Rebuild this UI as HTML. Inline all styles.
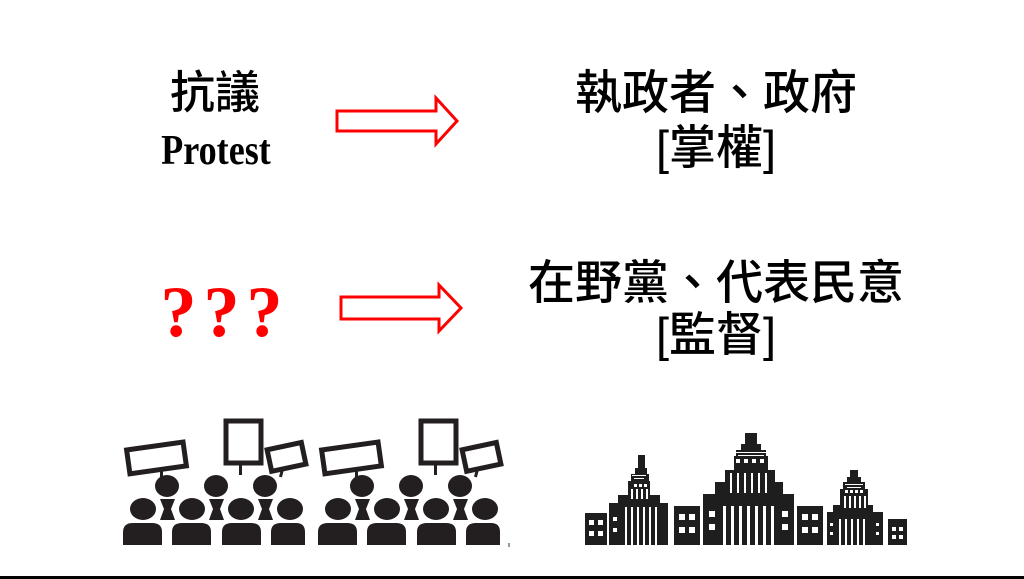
<!DOCTYPE html>
<html><head><meta charset="utf-8"><style>
html,body{margin:0;padding:0;background:#fff;}
body{width:1024px;height:579px;position:relative;overflow:hidden;}
.t{position:absolute;font-family:"Liberation Sans","Noto Sans CJK TC",sans-serif;color:#000;line-height:1;white-space:nowrap;text-align:center;}
</style></head><body>
<div class="t" style="left:120px;width:190px;top:70px;font-size:45px;font-weight:500;">抗議</div>
<div class="t" style="left:116px;width:200px;top:130px;font-size:42px;font-weight:700;font-family:'Liberation Serif',serif;transform:scaleX(0.86);">Protest</div>
<div class="t" style="left:516px;width:400px;top:69px;font-size:47px;font-weight:500;">執政者、政府</div>
<div class="t" style="left:516px;width:400px;top:124px;font-size:47px;font-weight:500;">[掌權]</div>
<div class="t" style="left:516px;width:400px;top:259px;font-size:47px;font-weight:500;">在野黨、代表民意</div>
<div class="t" style="left:516px;width:400px;top:311px;font-size:47px;font-weight:500;">[監督]</div>
<div class="t" style="left:150px;width:150px;top:276px;font-size:72px;font-weight:700;color:#f00;font-family:'Liberation Serif',serif;letter-spacing:7px;">???</div>
<svg width="1024" height="579" style="position:absolute;left:0;top:0">
<polygon points="337,111 436,111 436,98 457,121 436,144 436,131 337,131" fill="none" stroke="#f00" stroke-width="3"/>
<polygon points="341,297 439,297 439,285 461,308 439,331 439,319 341,319" fill="none" stroke="#f00" stroke-width="3"/>
<defs>
<g id="crowd" fill="#231f20">
<g transform="rotate(-8 156 458)"><rect x="128" y="446" width="57" height="24" fill="none" stroke="#231f20" stroke-width="5"/></g>
<rect x="160" y="471" width="3" height="6"/>
<rect x="226" y="421" width="35" height="42" fill="none" stroke="#231f20" stroke-width="5"/>
<rect x="239" y="463" width="3" height="12"/>
<g transform="rotate(-12 286 457)"><rect x="269" y="446" width="35" height="22" fill="none" stroke="#231f20" stroke-width="5"/></g>
<rect x="280" y="469" width="3" height="8" transform="rotate(15 281 473)"/>
<ellipse cx="167" cy="486" rx="12" ry="11"/><ellipse cx="216" cy="486" rx="12" ry="11"/><ellipse cx="265" cy="486" rx="12" ry="11"/>
<polygon points="160,499 175,499 171,509 175,520 160,520 164,509"/>
<polygon points="209,499 224,499 220,509 224,520 209,520 213,509"/>
<polygon points="258,499 273,499 269,509 273,520 258,520 262,509"/>
<ellipse cx="143" cy="509" rx="13" ry="11"/><ellipse cx="192" cy="509" rx="13" ry="11"/><ellipse cx="241" cy="509" rx="13" ry="11"/><ellipse cx="290" cy="509" rx="13" ry="11"/>
<path d="M123,545 V532 Q123,523 133,523 H152 Q162,523 162,532 V545Z"/>
<path d="M172,545 V532 Q172,523 182,523 H201 Q211,523 211,532 V545Z"/>
<path d="M222,545 V532 Q222,523 232,523 H251 Q261,523 261,532 V545Z"/>
<path d="M271,545 V532 Q271,523 281,523 H296 Q305,523 305,532 V545Z"/>
</g>
</defs>
<use href="#crowd"/>
<use href="#crowd" transform="translate(195,0)"/>
<rect x="508" y="543" width="2" height="4" fill="#999"/>
<g fill="#1e1e1e">
<rect x="585" y="513" width="22" height="32"/>
<rect x="674" y="506" width="26" height="39"/>
<rect x="797" y="506" width="26" height="39"/>
<rect x="888" y="519" width="19" height="26"/>
<rect x="609" y="503" width="59" height="42"/>
<rect x="618" y="495" width="42" height="10"/>
<rect x="628" y="481" width="22" height="16"/>
<rect x="631" y="474" width="18" height="8"/>
<rect x="635" y="468" width="12" height="7"/>
<rect x="638" y="455" width="7" height="14"/>
<rect x="703" y="494" width="91" height="51"/>
<rect x="715" y="482" width="68" height="14"/>
<rect x="725" y="470" width="50" height="14"/>
<rect x="734" y="456" width="34" height="16"/>
<rect x="736" y="450" width="30" height="7"/>
<rect x="741" y="444" width="20" height="7"/>
<rect x="745" y="433" width="12" height="13"/>
<rect x="827" y="512" width="56" height="33"/>
<rect x="833" y="505" width="40" height="9"/>
<rect x="840" y="489" width="28" height="18"/>
<rect x="843" y="482" width="22" height="8"/>
<rect x="847" y="477" width="14" height="6"/>
<rect x="850" y="470" width="8" height="8"/>
</g>
<g fill="#fff">
<rect x="589" y="520" width="5" height="5"/><rect x="598" y="520" width="5" height="5"/><rect x="589" y="531" width="5" height="5"/><rect x="598" y="531" width="5" height="5"/>
<rect x="679" y="514" width="6" height="6"/><rect x="689" y="514" width="6" height="6"/><rect x="679" y="527" width="6" height="6"/><rect x="689" y="527" width="6" height="6"/>
<rect x="802" y="514" width="6" height="6"/><rect x="812" y="514" width="6" height="6"/><rect x="802" y="527" width="6" height="6"/><rect x="812" y="527" width="6" height="6"/>
<rect x="892" y="527" width="4" height="4"/><rect x="899" y="527" width="4" height="4"/><rect x="892" y="535" width="4" height="4"/><rect x="899" y="535" width="4" height="4"/>
<rect x="632" y="475" width="14" height="1"/><rect x="634" y="478" width="10" height="1"/>
<rect x="634" y="484" width="3" height="3"/><rect x="639" y="484" width="3" height="3"/><rect x="644" y="484" width="3" height="3"/>
<rect x="631" y="489" width="2" height="10"/><rect x="636" y="489" width="2" height="10"/><rect x="641" y="489" width="2" height="10"/><rect x="646" y="489" width="2" height="10"/>
<rect x="625" y="507" width="2" height="38"/><rect x="631" y="507" width="2" height="38"/><rect x="637" y="507" width="2" height="38"/><rect x="643" y="507" width="2" height="38"/><rect x="649" y="507" width="2" height="38"/><rect x="655" y="507" width="2" height="38"/>
<rect x="613" y="517" width="4" height="4"/><rect x="613" y="528" width="4" height="4"/>
<rect x="736" y="452" width="30" height="1"/><rect x="738" y="455" width="26" height="1"/>
<rect x="736" y="459" width="4" height="4"/><rect x="744" y="459" width="4" height="4"/><rect x="752" y="459" width="4" height="4"/><rect x="760" y="459" width="4" height="4"/>
<rect x="730" y="473" width="2" height="20"/><rect x="737" y="473" width="2" height="20"/><rect x="744" y="473" width="2" height="20"/><rect x="751" y="473" width="2" height="20"/><rect x="758" y="473" width="2" height="20"/><rect x="765" y="473" width="2" height="20"/>
<rect x="723" y="506" width="3" height="39"/><rect x="731" y="506" width="3" height="39"/><rect x="739" y="506" width="3" height="39"/><rect x="747" y="506" width="3" height="39"/><rect x="755" y="506" width="3" height="39"/><rect x="763" y="506" width="3" height="39"/><rect x="771" y="506" width="3" height="39"/>
<rect x="709" y="511" width="6" height="6"/><rect x="709" y="524" width="6" height="6"/><rect x="782" y="511" width="6" height="6"/><rect x="782" y="524" width="6" height="6"/>
<rect x="845" y="484" width="18" height="1"/><rect x="847" y="487" width="14" height="1"/>
<rect x="845" y="490" width="3" height="3"/><rect x="850" y="490" width="3" height="3"/><rect x="855" y="490" width="3" height="3"/><rect x="860" y="490" width="3" height="3"/>
<rect x="844" y="496" width="2" height="12"/><rect x="849" y="496" width="2" height="12"/><rect x="854" y="496" width="2" height="12"/><rect x="859" y="496" width="2" height="12"/><rect x="864" y="496" width="2" height="12"/>
<rect x="839" y="519" width="2" height="26"/><rect x="845" y="519" width="2" height="26"/><rect x="851" y="519" width="2" height="26"/><rect x="857" y="519" width="2" height="26"/><rect x="863" y="519" width="2" height="26"/>
<rect x="830" y="523" width="3" height="3"/><rect x="830" y="532" width="3" height="3"/><rect x="876" y="523" width="3" height="3"/><rect x="876" y="532" width="3" height="3"/>
</g>
<rect x="0" y="576" width="1024" height="3" fill="#000"/>
</svg>
</body></html>
